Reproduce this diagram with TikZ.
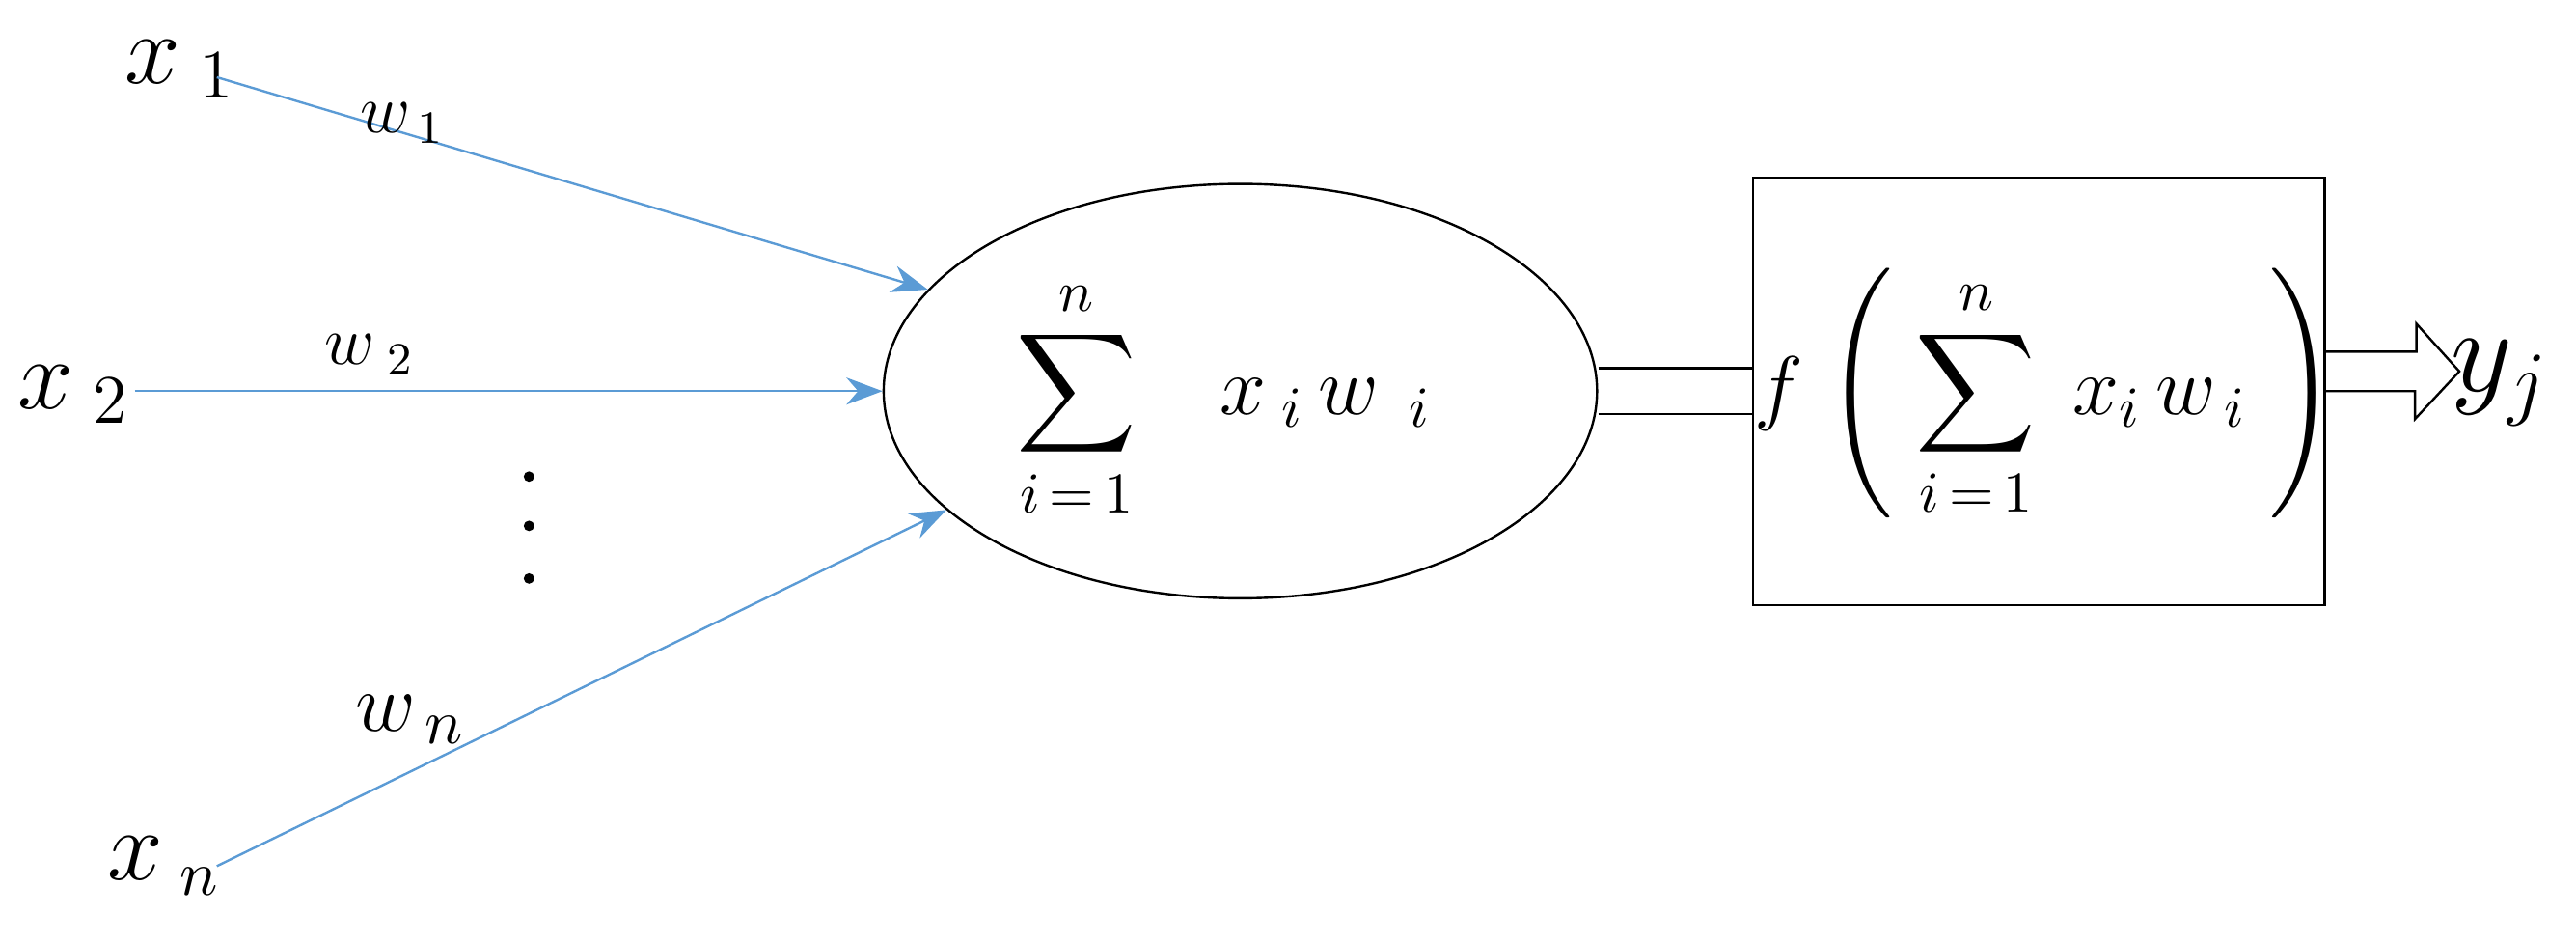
\documentclass[tikz,border=0pt]{standalone}
\usepackage{amsmath}
\usetikzlibrary{shapes.geometric, arrows.meta}
\definecolor{wblue}{RGB}{91,155,213}
\tikzset{arrow/.style = {wblue, thin, -{Stealth[length=2.2mm]}}}
\tikzset{lbl/.style = {font=\fontsize{18}{22}\selectfont, inner sep=1pt}}
\tikzset{mlbl/.style = {font=\fontsize{14}{17}\selectfont, inner sep=1pt}}
\tikzset{wlbl/.style = {font=\fontsize{12}{14}\selectfont, inner sep=1pt}}

\begin{document}
\begin{tikzpicture}[x=0.01cm, y=0.01cm]
\useasboundingbox (0,0) rectangle (1568,573);

\node[ellipse, draw, thin, minimum width=4.34cm, minimum height=2.52cm] (sum) at (755,335) {};
\node[mlbl] (sumtxt) at (745,330) {$\displaystyle\sum_{i\,=\,1}^{n}\;\;\; x_{\;i}\, w_{\;\;i}$};

\node[draw, thin, minimum width=3.48cm, minimum height=2.6cm] (act) at (1241,335) {};
\node[mlbl] (acttxt) at (1245,333) {$f\;\Biggl(\;\displaystyle\sum_{i\,=\,1}^{n}\; x_{i}\, w_{\,i}\;\Biggr)$};

\node[lbl] (x1) at (110,531) {$x_{\;1}$};
\node[lbl] (x2) at (45,333) {$x_{\;2}$};
\node[lbl, font=\fontsize{16}{20}\selectfont] (xn) at (100,46) {$x_{\;n}$};
\node[lbl, font=\fontsize{22}{26}\selectfont] (yj) at (1522,340) {$y_j$};

\coordinate (s1) at (132,526);
\coordinate (s2) at (82,335);
\coordinate (sn) at (132,46);

\draw[arrow] (s1) -- (sum.162);
\draw[arrow] (s2) -- (sum.180);
\draw[arrow] (sn) -- (sum.202);

\node[wlbl] (w1) at (245,498) {$w_{\,1}$};
\node[wlbl] (w2) at (225,357) {$w_{\;2}$};
\node[wlbl, font=\fontsize{15}{18}\selectfont] (wn) at (250,135) {$w_{\,n}$};

\foreach \y in {283,253,221}
  \fill (322,\y) circle (3.2);

% hollow connectors
\draw[thin] ([yshift=0.14cm]sum.east) -- ([yshift=0.14cm]act.west);
\draw[thin] ([yshift=-0.14cm]sum.east) -- ([yshift=-0.14cm]act.west);
\coordinate (tip) at (1497,347);
\draw[thin] ([yshift=0.24cm]act.east) -- ++(0.55cm,0) -- ++(0,0.17cm) -- (tip)
  -- (1470,318) -- ++(0,0.17cm) -- (act.east);
\end{tikzpicture}
\end{document}
